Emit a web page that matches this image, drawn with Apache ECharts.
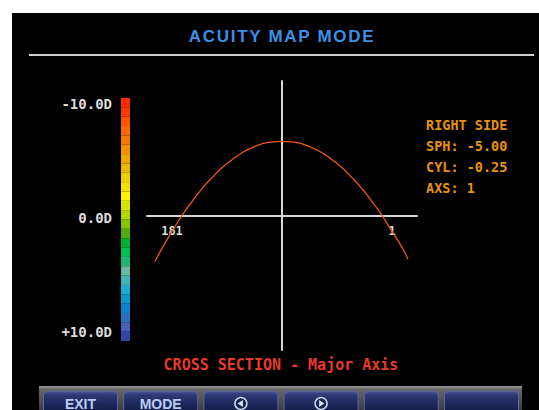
<!DOCTYPE html>
<html>
<head>
<meta charset="utf-8">
<title>Acuity Map Mode</title>
<script src="https://cdn.jsdelivr.net/npm/echarts@6/dist/echarts.min.js"></script>
<style>
  html, body { margin: 0; padding: 0; background: #fff; }
  #main { width: 539px; height: 410px; }
  /* the screen title is spaced out a bit */
  #main text[fill="#3b8fe6"] { letter-spacing: 1.7px; }
</style>
</head>
<body>
<div id="main"></div>
<script>
// cross section along the major axis
var sectionX = [-12.7, -12, -11, -10, -9, -8, -7, -6, -5, -4, -3, -2, -1, 0, 1, 2, 3, 4, 5, 6, 7, 8, 9, 10, 11, 12, 12.6];
var sectionY = [-4.6, -3.3, -1.6, 0, 1.4, 2.7, 3.8, 4.8, 5.6, 6.3, 6.8, 7.2, 7.4, 7.45, 7.4, 7.2, 6.8, 6.3, 5.6, 4.8, 3.8, 2.7, 1.4, 0, -1.6, -3.2, -4.4];

// meridian labels on the horizontal line
var meridianTicks = [-11, 11];
var meridianLabels = ['181', '1'];

// dioptre colour scale, top (-10D) to bottom (+10D)
var scaleTicks = [-10, 0, 10];
var scaleLabels = ['-10.0D', '0.0D', '+10.0D'];
var scaleColors = [
  '#ff2a00', '#ff3a00', '#ff5500', '#ff6600', '#f87400', '#f58e00', '#f0a600',
  '#eab800', '#ecce00', '#f4e200', '#fff200', '#d8e400', '#b6d600', '#88c400',
  '#50aa10', '#00b030', '#00bf50', '#1ab874', '#6ab8a0', '#40b4b8', '#1aaccc',
  '#0a9ad0', '#0a84cc', '#2870c0', '#4a60bc', '#3048a8'
];

var infoLines = ['RIGHT SIDE', 'SPH: -5.00', 'CYL: -0.25', 'AXS: 1'];
var buttonLabels = ['EXIT', 'MODE', '', '', '', ''];
var buttonIcons = ['', '', 'left', 'right', '', ''];

var myChart = echarts.init(document.getElementById('main'), null, { renderer: 'svg' });

var sectionData = sectionX.map(function (x, i) { return [x, sectionY[i]]; });

// screen chrome: black panel, divider, bottom button strip
var graphics = [
  { type: 'rect', z: -100, shape: { x: 12, y: 13, width: 527, height: 397 }, style: { fill: '#000' } },
  { type: 'line', shape: { x1: 29, y1: 55, x2: 534, y2: 55 }, style: { stroke: '#cfcfcf', lineWidth: 2 } },
  {
    type: 'text', x: 426, y: 114,
    style: {
      text: infoLines.join('\n'), fill: '#e8920e', lineHeight: 21,
      font: 'bold 13.5px "DejaVu Sans Mono"', align: 'left', verticalAlign: 'top'
    }
  },
  {
    type: 'text', x: 281, y: 365,
    style: {
      text: 'CROSS SECTION - Major Axis', fill: '#e83a2a',
      font: 'bold 15px "DejaVu Sans Mono"', align: 'center', verticalAlign: 'middle'
    }
  },
  {
    type: 'rect', shape: { x: 39, y: 386, width: 483, height: 24 },
    style: {
      fill: new echarts.graphic.LinearGradient(0, 0, 0, 1, [
        { offset: 0, color: '#9a9a9a' }, { offset: 0.15, color: '#666' }, { offset: 1, color: '#3c3c3c' }
      ])
    }
  }
];

buttonLabels.forEach(function (label, i) {
  var bx = 43.5 + i * 80.2, cx = bx + 37, cy = 403.5;
  graphics.push({
    type: 'rect', shape: { x: bx, y: 391.5, width: 74, height: 22, r: [4, 4, 0, 0] },
    style: {
      fill: new echarts.graphic.LinearGradient(0, 0, 0, 1, [
        { offset: 0, color: '#4b5896' }, { offset: 0.15, color: '#2e3a78' },
        { offset: 0.6, color: '#1d2658' }, { offset: 1, color: '#141b44' }
      ]),
      stroke: '#5866a6', lineWidth: 1
    }
  });
  if (label) {
    graphics.push({
      type: 'text', x: cx, y: cy,
      style: { text: label, fill: '#b8cdf2', font: 'bold 14px "Liberation Sans"', align: 'center', verticalAlign: 'middle' }
    });
  }
  if (buttonIcons[i]) {
    var d = buttonIcons[i] === 'left' ? -1 : 1;
    graphics.push({ type: 'circle', shape: { cx: cx, cy: cy, r: 6 }, style: { fill: '#1a2250', stroke: '#c8d6f2', lineWidth: 1.5 } });
    graphics.push({
      type: 'polygon',
      shape: { points: [[cx + 3.2 * d, cy], [cx - 2 * d, cy - 3.5], [cx - 2 * d, cy + 3.5]] },
      style: { fill: '#dde6f8' }
    });
  }
});

var option = {
  animation: false,
  title: {
    text: 'ACUITY MAP MODE',
    left: 282, top: 28, padding: 0, textAlign: 'center',
    textStyle: { color: '#3b8fe6', fontFamily: 'Liberation Sans', fontWeight: 'bold', fontSize: 17 }
  },
  grid: [
    { left: 147, top: 81, width: 270, height: 269 },
    { left: 121, top: 98, width: 9, height: 243 }
  ],
  xAxis: [
    {
      // horizontal line sits at the middle of the plot (value 0 on the y axis)
      gridIndex: 0, type: 'value', min: -13.5, max: 13.5, offset: -134.5,
      axisLine: { onZero: false, lineStyle: { color: '#d6d6d6', width: 2 } },
      axisTick: { show: false }, splitLine: { show: false },
      axisLabel: {
        customValues: meridianTicks,
        formatter: function (v) { return meridianLabels[meridianTicks.indexOf(v)]; },
        color: '#dcdcdc', fontFamily: 'DejaVu Sans Mono', fontSize: 12, fontWeight: 'bold', margin: 9
      }
    },
    { gridIndex: 1, type: 'value', min: 0, max: 1, show: false }
  ],
  yAxis: [
    {
      gridIndex: 0, type: 'value', min: -13.5, max: 13.5,
      axisLine: { onZero: true, lineStyle: { color: '#d6d6d6', width: 2 } },
      axisTick: { show: false }, splitLine: { show: false }, axisLabel: { show: false }
    },
    {
      gridIndex: 1, type: 'category', inverse: true, show: false,
      data: scaleColors.map(function (c, i) { return i; })
    },
    {
      gridIndex: 1, type: 'value', inverse: true, position: 'left', min: -10.5, max: 10.8,
      axisLine: { show: false }, axisTick: { show: false }, splitLine: { show: false },
      axisLabel: {
        customValues: scaleTicks,
        formatter: function (v) { return scaleLabels[scaleTicks.indexOf(v)]; },
        color: '#dcdcdc', fontFamily: 'DejaVu Sans Mono', fontSize: 14, fontWeight: 'bold', margin: 9
      }
    }
  ],
  series: [
    {
      type: 'line', xAxisIndex: 0, yAxisIndex: 0,
      data: sectionData, smooth: true, showSymbol: false,
      lineStyle: { color: '#ee5a0c', width: 1.3 }
    },
    {
      type: 'bar', xAxisIndex: 1, yAxisIndex: 1,
      barWidth: '100%', barCategoryGap: 0,
      data: scaleColors.map(function (c) { return { value: 1, itemStyle: { color: c } }; })
    }
  ],
  graphic: { elements: graphics }
};

myChart.setOption(option);
</script>
</body>
</html>
